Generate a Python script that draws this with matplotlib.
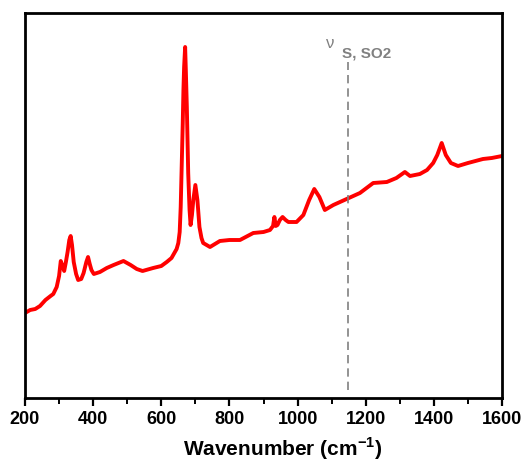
import matplotlib
matplotlib.use("Agg")
import matplotlib.pyplot as plt
from matplotlib.ticker import MultipleLocator

plt.rcParams["mathtext.fontset"] = "custom"
plt.rcParams["mathtext.bf"] = "Liberation Sans:bold"
plt.rcParams["mathtext.rm"] = "Liberation Sans"

# Raman spectrum (intensity in arbitrary units)
wavenumber = [200, 205, 215, 230, 244, 260, 275, 283, 293, 300, 305, 310, 315,
              320, 325, 330, 334, 338, 343, 350, 356, 365, 372, 380, 385, 390,
              395, 402, 420, 440, 460, 489, 510, 528, 545, 576, 600, 616, 630,
              635, 645, 650, 654, 657, 660, 663, 665, 667, 670, 672, 675, 679,
              683, 686, 690, 694, 700, 706, 712, 718, 723, 743, 772, 800, 831,
              870, 900, 919, 928, 932, 936, 941, 948, 956, 965, 973, 997, 1017,
              1034, 1049, 1064, 1080, 1105, 1144, 1183, 1222, 1262, 1290, 1315,
              1330, 1359, 1380, 1398, 1410, 1423, 1435, 1450, 1471, 1500, 1544,
              1570, 1600]
intensity_px = [313, 312, 310, 309, 306, 300, 296, 294, 287, 276, 261, 266, 271,
                262, 252, 240, 236, 245, 262, 274, 280, 279, 273, 262, 257, 264,
                270, 274, 272, 268, 265, 261, 265, 269, 271, 268, 266, 262, 258,
                255, 249, 243, 232, 207, 165, 123, 90, 67, 47, 70, 107, 173,
                210, 225, 215, 200, 185, 200, 227, 238, 243, 247, 241, 240, 240,
                233, 232, 230, 226, 217, 226, 225, 220, 217, 220, 222, 222, 215,
                200, 189, 197, 210, 205, 199, 193, 183, 182, 178, 172,
                176, 174, 170, 163, 155, 143, 155, 163, 166, 163, 159,
                158, 156]
intensity = [398 - v for v in intensity_px]

so2_position = 1148
so2_line = [8, 336]

fig = plt.figure(figsize=(5.25, 4.62), dpi=100)
ax = fig.add_axes([25 / 525, 1 - 398 / 462, 477 / 525, 385 / 462])

ax.plot(wavenumber, intensity, color="#ff0000", lw=2.8, solid_joinstyle="round")
ax.vlines(so2_position, so2_line[0], so2_line[1], colors="#808080",
          linestyles=(0, (5, 3)), lw=1.2)

ax.text(1082, 350, "\u03bd", color="#808080", fontsize=12,
        family="Liberation Sans", va="baseline", ha="left")
ax.text(1131, 340, "S, SO2", color="#808080", fontsize=11, fontweight="bold",
        family="Liberation Sans", va="baseline", ha="left")

ax.set_xlim(200, 1600)
ax.set_ylim(0, 385)
ax.xaxis.set_major_locator(MultipleLocator(200))
ax.xaxis.set_minor_locator(MultipleLocator(100))
ax.set_yticks([])
ax.tick_params(axis="x", which="major", direction="out", length=6, width=1.6, pad=3)
ax.tick_params(axis="x", which="minor", direction="out", length=4, width=1.4)
for lab in ax.get_xticklabels():
    lab.set_fontfamily("Liberation Sans")
    lab.set_fontweight("bold")
    lab.set_fontsize(13)
for sp in ax.spines.values():
    sp.set_linewidth(2)

ax.set_xlabel(r"Wavenumber (cm$^{\mathbf{-1}}$)", fontsize=15, fontweight="bold",
              family="Liberation Sans")
ax.xaxis.set_label_coords(0.541, -0.098)

fig.savefig("out.png", dpi=100)
